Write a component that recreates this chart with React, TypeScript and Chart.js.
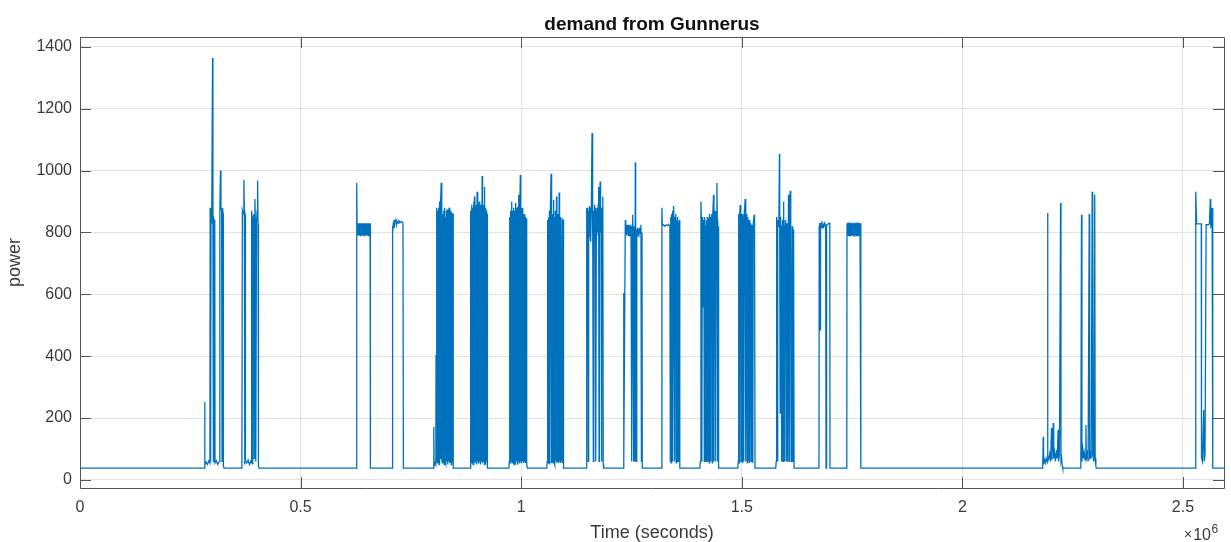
import { useEffect, useRef } from 'react';
import { Chart, registerables } from 'chart.js';

Chart.register(...registerables);

// ---- chart text ----
const chartTitle = 'demand from Gunnerus';
const xAxisLabel = 'Time (seconds)';
const yAxisLabel = 'power';

// ---- axis ticks ----
const xTickValues = [0, 500000, 1000000, 1500000, 2000000, 2500000];
const xTickLabels = ['0', '0.5', '1', '1.5', '2', '2.5'];
const yTickValues = [0, 200, 400, 600, 800, 1000, 1200, 1400];
const yTickLabels = ['0', '200', '400', '600', '800', '1000', '1200', '1400'];
const xRange = [0, 2593000];
const yRange = [-26, 1432];

// ---- series: [time in thousands of seconds, power] ----
const startSamples: [number, number][] = [
  [0, 38], [282, 38], [282.6, 252], [283.3, 48], [286, 58], [289, 50], [292, 62], [294.5, 55],
  [295, 880], [296, 60], [297, 830], [298, 890], [299, 830], [300.5, 1364], [301.3, 830], [302.3, 60],
  [303, 810], [304, 840], [305.5, 830], [306, 55], [309, 62], [312, 50], [315, 58], [316.5, 60],
  [317, 880], [318.5, 1000], [319.5, 880], [321, 870], [322, 60], [323, 880], [324.5, 860], [325, 45], [326.5, 38],
  [366, 38], [367, 60], [368, 870], [369.5, 860], [371.5, 970], [372.5, 870], [373.5, 50], [374, 860], [375, 60],
  [378, 55], [381, 65], [384, 50], [387, 60], [388.5, 55], [389, 870], [390.5, 840], [391.5, 50], [392.5, 850],
  [394, 860], [395, 70], [396.5, 908], [397.5, 830], [398.5, 60], [400, 830], [401.5, 870], [402.6, 968],
  [403.5, 830], [404.5, 45], [406, 38],
];

const blockSamples: [number, number][] = [
  [626, 38], [627, 830], [627.5, 960], [628, 830], [629, 790], [630.5, 830], [632, 790], [633.5, 830],
  [635, 790], [636.5, 830], [638, 790], [639.5, 830], [641, 790], [642.5, 830], [644, 790], [645.5, 830],
  [647, 790], [648.5, 830], [650, 790], [651.5, 830], [653, 790], [654.5, 830], [656, 790], [657.5, 830],
  [658, 830], [658.5, 38],
  [707.5, 38], [708, 820], [709, 795], [710, 830], [711.5, 840], [712.5, 815], [714, 838], [716, 845],
  [717.5, 825], [719, 835], [721, 830], [723, 838], [726, 832], [729, 836], [732, 830], [733, 38],
];

const midSamples: [number, number][] = [
  [801.5, 38], [802, 172], [802.5, 45], [805, 55], [806.5, 50], [807, 404], [808, 60], [809, 880], [810, 55],
  [811, 870], [812, 60], [813, 880], [814, 50], [815, 900], [816, 70], [817, 880], [818.6, 961], [819.5, 60],
  [820.5, 880], [821.5, 55], [822.5, 860], [823.5, 60], [824.5, 870], [825.5, 50], [826.5, 880], [827.5, 65],
  [828.5, 850], [829.5, 55], [830.5, 870], [831.5, 60], [832.5, 875], [833.5, 50], [834.5, 870], [835.5, 60],
  [836.5, 880], [837.5, 55], [838.5, 875], [839.5, 60], [840.5, 870], [841.5, 50], [842.5, 865], [843.5, 60],
  [844.5, 860], [845.5, 860], [846, 38],
  [884, 38], [885, 60], [886, 870], [887, 55], [888, 890], [889, 60], [890, 880], [891, 50], [892, 900],
  [893, 65], [894, 916], [895, 55], [896, 880], [897, 60], [898, 890], [899, 50], [900, 932], [901, 60],
  [902, 880], [903, 55], [904, 870], [905, 900], [906, 60], [907, 880], [908, 50], [909, 890], [910, 60],
  [911.4, 983], [912.5, 55], [913.5, 880], [914.5, 60], [915.5, 890], [916.5, 50], [917, 948], [918, 60],
  [919, 880], [920, 55], [921, 870], [922, 60], [923, 860], [923.5, 38],
  [972, 38], [973, 60], [974, 850], [975, 55], [976, 870], [977, 60], [978, 880], [979, 900], [980, 55],
  [981, 870], [982, 60], [983, 880], [984, 50], [985, 870], [986, 60], [987, 895], [988, 55], [989, 880],
  [990, 60], [991, 870], [992, 50], [993, 885], [994, 60], [995, 922], [996, 55], [997, 880], [998, 986],
  [999, 60], [1000, 870], [1001, 55], [1002, 880], [1003, 60], [1004, 860], [1005, 851], [1006, 55],
  [1007, 860], [1008, 60], [1009, 850], [1010, 55], [1011, 845], [1012, 831], [1013, 50], [1014, 38],
  [1058, 38], [1059, 60], [1060, 840], [1061, 55], [1062, 850], [1063, 60], [1064, 870], [1065, 50],
  [1066, 860], [1067.7, 990], [1068.5, 55], [1069.5, 850], [1070.5, 60], [1071.5, 860], [1072.5, 55],
  [1073.6, 905], [1074.5, 60], [1075.5, 850], [1076.5, 50], [1077.5, 870], [1078.5, 60], [1080, 916],
  [1081, 55], [1082, 860], [1083, 60], [1084, 850], [1085, 55], [1086, 929], [1087, 60], [1088, 850],
  [1089, 55], [1090, 840], [1091, 411], [1092, 60], [1093, 845], [1094, 55], [1095, 840], [1096, 38],
  [1147, 38], [1148, 60], [1149, 880], [1150, 800], [1151, 880], [1152, 60], [1153, 870], [1154, 790],
  [1155, 885], [1156, 800], [1157, 880], [1158, 770], [1159, 890], [1160.6, 1122], [1161.5, 800],
  [1162.5, 880], [1163.5, 60], [1164.5, 870], [1165.5, 780], [1166.5, 890], [1167.5, 800], [1168.5, 880],
  [1169.5, 60], [1170.5, 870], [1171.5, 790], [1172.5, 880], [1173.5, 800], [1174.5, 890], [1175.5, 948],
  [1176.5, 60], [1177.5, 880], [1179, 965], [1180, 800], [1181, 880], [1182, 60], [1183, 860], [1184, 840],
  [1185, 916], [1186, 50], [1187, 38],
];

const lateSamples: [number, number][] = [
  [1231, 38], [1232, 604], [1233, 60], [1236, 840], [1237, 800], [1238, 820], [1239, 790], [1240, 825],
  [1241, 795], [1242, 820], [1243, 790], [1244, 825], [1245, 795], [1246, 820], [1247, 790], [1248, 825],
  [1249, 795], [1250, 820], [1251, 60], [1252.6, 857], [1253.5, 800], [1254.5, 60], [1255.5, 800],
  [1256.5, 820], [1257.5, 60], [1258.6, 1026], [1259.5, 800], [1260.5, 60], [1262, 810], [1263, 790],
  [1264, 815], [1265, 795], [1266, 810], [1267, 790], [1268, 815], [1269, 795], [1270, 810], [1271.5, 825],
  [1272.5, 60], [1273.8, 800], [1274.5, 38],
  [1318, 38], [1319, 880], [1320, 825], [1322, 825], [1325, 820], [1328, 825], [1331, 822], [1334, 826],
  [1337, 822], [1338, 60], [1339, 850], [1340, 55], [1341, 860], [1342, 800], [1343, 870], [1344, 60],
  [1345.4, 886], [1346.5, 820], [1347.5, 60], [1348.5, 850], [1349.5, 800], [1350.5, 860], [1351.5, 55],
  [1352.5, 840], [1353.5, 810], [1354.5, 850], [1355.5, 60], [1356.5, 830], [1357.5, 820], [1358.5, 840],
  [1359.5, 38],
  [1405, 38], [1406, 60], [1407.4, 900], [1408.5, 840], [1409.5, 60], [1410.5, 850], [1411.5, 820],
  [1413, 560], [1414, 840], [1415, 60], [1416, 850], [1417, 820], [1418, 823], [1419, 60], [1420, 840],
  [1421, 754], [1422, 850], [1423, 60], [1424, 830], [1425, 845], [1426, 55], [1427, 860], [1428, 840],
  [1429, 60], [1430, 850], [1431, 830], [1432, 860], [1433, 55], [1434, 850], [1436, 922], [1437, 60],
  [1438, 850], [1439, 830], [1440, 870], [1441, 60], [1442, 850], [1443.6, 960], [1444.5, 840], [1445.5, 60],
  [1446.5, 820], [1447.5, 38],
  [1491, 38], [1492, 60], [1493, 860], [1494, 55], [1495, 850], [1496.4, 889], [1497.5, 840], [1498.5, 60],
  [1499.5, 850], [1500.5, 860], [1501.5, 55], [1502.5, 855], [1503.5, 840], [1504.5, 60], [1505.5, 860],
  [1507.7, 908], [1508.5, 850], [1509.5, 60], [1510.5, 845], [1511.5, 860], [1512.5, 55], [1513.5, 850],
  [1514.5, 830], [1515.5, 60], [1516.5, 840], [1517.5, 820], [1518.5, 55], [1519.5, 830], [1520.5, 810],
  [1521.5, 60], [1522.8, 825], [1524, 800], [1525, 55], [1526, 830], [1528, 857], [1529, 820], [1530, 38],
  [1577, 38], [1578, 60], [1579, 850], [1580, 830], [1581, 60], [1582, 840], [1583, 820], [1584, 830],
  [1585.4, 1054], [1586, 830], [1587, 216], [1588, 850], [1589, 800], [1590, 60], [1590.8, 399],
  [1591.5, 820], [1592.5, 840], [1593.5, 60], [1594.4, 900], [1595.5, 830], [1596.5, 800], [1597.5, 60],
  [1598.5, 840], [1599.5, 820], [1600.5, 810], [1601.5, 60], [1602.5, 830], [1603.5, 800], [1604.5, 60],
  [1605.8, 922], [1606.5, 820], [1607.5, 60], [1608.5, 830], [1609.6, 935], [1610.5, 800], [1611.5, 820],
  [1612.5, 60], [1613.5, 140], [1614.5, 820], [1615.5, 800], [1616.5, 60], [1617.5, 810], [1618.5, 38],
  [1675, 38], [1675.5, 820], [1676.5, 831], [1677.5, 485], [1678.5, 825], [1680, 831], [1682, 815],
  [1684, 828], [1686, 820], [1688, 830], [1690, 818], [1691, 38], [1692, 38], [1692.5, 825], [1696, 828],
  [1699.5, 830], [1700, 38],
  [1738, 38], [1738.5, 830], [1739.5, 790], [1741, 832], [1742.5, 788], [1744, 830], [1745.5, 790],
  [1747, 832], [1748.5, 788], [1750, 830], [1751.5, 790], [1753, 832], [1754.5, 788], [1756, 830],
  [1757.5, 790], [1759, 832], [1760.5, 788], [1762, 830], [1763.5, 790], [1765, 832], [1766.5, 788],
  [1768, 830], [1769.5, 830], [1770.2, 38],
];

const endSamples: [number, number][] = [
  [2182, 38], [2183.3, 139], [2184, 50], [2186, 65], [2188, 55], [2190, 70], [2192, 60], [2193, 863],
  [2194, 60], [2196, 70], [2198, 85], [2200, 60], [2202, 168], [2203, 65], [2204, 110], [2206, 184],
  [2207, 70], [2209, 90], [2211, 60], [2213.6, 97], [2215, 70], [2217, 162], [2218, 60], [2220, 80],
  [2222.6, 895], [2223.5, 60], [2225, 70], [2226.5, 45], [2227.5, 38],
  [2268.5, 38], [2270, 857], [2271, 60], [2272, 119], [2274, 70], [2276, 90], [2278, 65], [2280, 178],
  [2281, 70], [2283, 85], [2285, 60], [2287.5, 860], [2288.5, 65], [2290, 95], [2292, 70], [2294.2, 932],
  [2295, 297], [2296, 80], [2298, 60], [2300, 922], [2301, 70], [2302.5, 45], [2303.5, 38],
  [2528.5, 38], [2529, 932], [2531, 828], [2535, 828], [2538, 828], [2541.5, 828], [2542, 71], [2544, 60],
  [2547, 226], [2548, 60], [2550, 80], [2552.5, 825], [2555, 825], [2558, 825], [2560, 830], [2562, 908],
  [2563, 820], [2564.5, 825], [2566, 880], [2567, 60], [2568, 38], [2593, 38],
];

const FONT = '"Liberation Sans", Arial, Helvetica, sans-serif';
const TEXT = '#3a3a3a';
const AXIS = '#555555';
const GRID = '#e2e2e2';
const LINE = '#0072BD';

const framePlugin = {
  id: 'matlabFrame',
  afterDatasetsDraw(chart: any) {
    const { ctx, chartArea: a, scales } = chart;
    ctx.save();
    ctx.strokeStyle = AXIS;
    ctx.lineWidth = 1;
    ctx.beginPath();
    ctx.rect(Math.round(a.left) + 0.5, Math.round(a.top) + 0.5, Math.round(a.right - a.left), Math.round(a.bottom - a.top));
    const tl = 11;
    xTickValues.forEach((v) => {
      const x = Math.round(scales.x.getPixelForValue(v)) + 0.5;
      ctx.moveTo(x, a.bottom);
      ctx.lineTo(x, a.bottom - tl);
      ctx.moveTo(x, a.top);
      ctx.lineTo(x, a.top + tl);
    });
    yTickValues.forEach((v) => {
      const y = Math.round(scales.y.getPixelForValue(v)) + 0.5;
      ctx.moveTo(a.left, y);
      ctx.lineTo(a.left + tl, y);
      ctx.moveTo(a.right, y);
      ctx.lineTo(a.right - tl, y);
    });
    ctx.stroke();
    ctx.restore();
  },
  afterDraw(chart: any) {
    const { ctx, chartArea: a } = chart;
    const cx = (a.left + a.right) / 2;
    const cy = (a.top + a.bottom) / 2;
    ctx.save();
    ctx.fillStyle = '#111111';
    ctx.textAlign = 'center';
    ctx.textBaseline = 'alphabetic';
    ctx.font = `bold 19px ${FONT}`;
    ctx.fillText(chartTitle, cx, 29.5);
    ctx.fillStyle = TEXT;
    ctx.font = `18px ${FONT}`;
    ctx.fillText(xAxisLabel, cx, 538);
    ctx.save();
    ctx.translate(20, cy);
    ctx.rotate(-Math.PI / 2);
    ctx.fillText(yAxisLabel, 0, 0);
    ctx.restore();
    // exponent label
    ctx.textAlign = 'left';
    ctx.font = `14px ${FONT}`;
    ctx.fillText('\u00d7', 1184, 539);
    const wx = ctx.measureText('\u00d7').width;
    ctx.font = `16px ${FONT}`;
    ctx.fillText('10', 1184 + wx + 1, 540);
    const w10 = ctx.measureText('10').width;
    ctx.font = `12px ${FONT}`;
    ctx.fillText('6', 1184 + wx + 1 + w10 + 0.5, 533);
    ctx.restore();
  },
};

export default function App() {
  const ref = useRef<HTMLCanvasElement>(null);
  useEffect(() => {
    const all = [...startSamples, ...blockSamples, ...midSamples, ...lateSamples, ...endSamples];
    const points = all.map(([t, p]) => ({ x: t * 1000, y: p }));
    const chart = new Chart(ref.current as HTMLCanvasElement, {
      type: 'line',
      data: {
        datasets: [
          {
            data: points,
            borderColor: LINE,
            backgroundColor: LINE,
            borderWidth: 1.3,
            pointRadius: 0,
            tension: 0,
            fill: false,
          },
        ],
      },
      options: {
        animation: false,
        responsive: false,
        maintainAspectRatio: false,
        events: [],
        layout: { autoPadding: false, padding: { top: 37, right: 7, left: 0, bottom: 0 } },
        plugins: { legend: { display: false }, tooltip: { enabled: false }, title: { display: false } },
        scales: {
          x: {
            type: 'linear',
            min: xRange[0],
            max: xRange[1],
            afterBuildTicks: (s: any) => {
              s.ticks = xTickValues.map((v) => ({ value: v }));
            },
            afterFit: (s: any) => {
              s.height = 54;
            },
            grid: { color: GRID, drawTicks: false, lineWidth: 1 },
            border: { display: false },
            ticks: {
              padding: 10,
              color: TEXT,
              font: { family: FONT, size: 16 },
              maxRotation: 0,
              autoSkip: false,
              callback: (_v: any, i: number) => xTickLabels[i],
            },
          },
          y: {
            type: 'linear',
            min: yRange[0],
            max: yRange[1],
            afterBuildTicks: (s: any) => {
              s.ticks = yTickValues.map((v) => ({ value: v }));
            },
            afterFit: (s: any) => {
              s.width = 80;
            },
            grid: { color: GRID, drawTicks: false, lineWidth: 1 },
            border: { display: false },
            ticks: {
              padding: 8,
              color: TEXT,
              font: { family: FONT, size: 16 },
              autoSkip: false,
              callback: (_v: any, i: number) => yTickLabels[i],
            },
          },
        },
      },
      plugins: [framePlugin],
    });
    return () => chart.destroy();
  }, []);
  return (
    <div style={{ position: 'fixed', left: 0, top: 0, width: 1231, height: 542, background: '#fff' }}>
      <canvas ref={ref} width={1231} height={542} style={{ display: 'block' }} />
    </div>
  );
}
